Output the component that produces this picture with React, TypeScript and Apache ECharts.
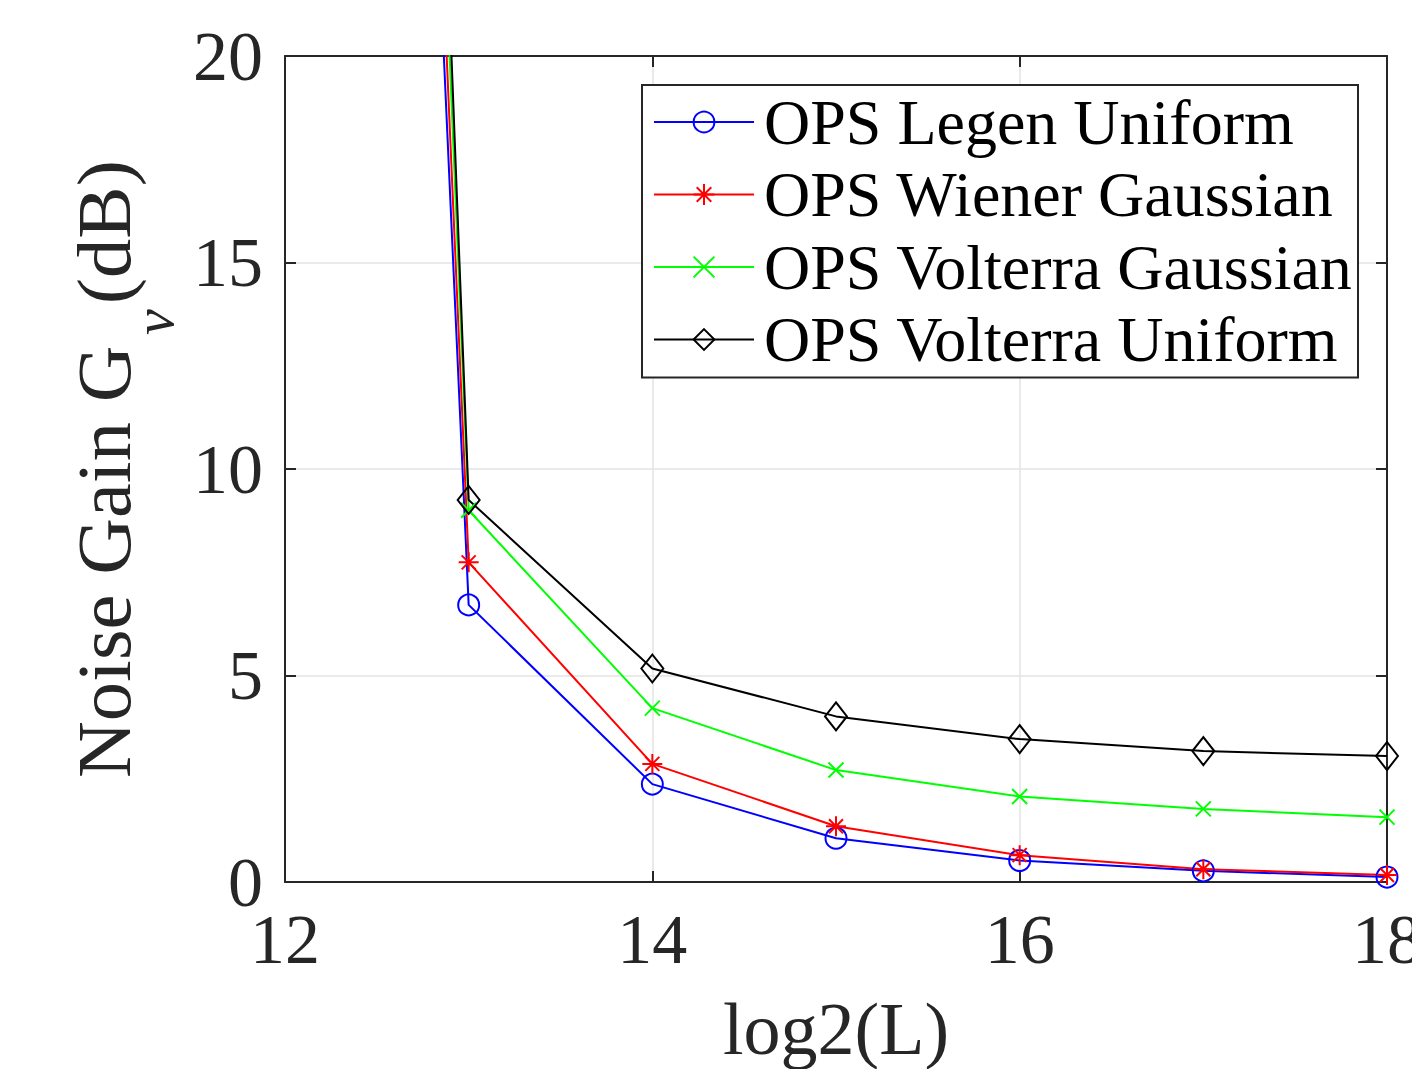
import React, { useEffect, useRef } from "react";
import * as echarts from "echarts";

const xValues = [12, 13, 14, 15, 16, 17, 18];
const legenUniform = [105, 6.71, 2.37, 1.06, 0.52, 0.27, 0.12];
const wienerGaussian = [110, 7.74, 2.86, 1.35, 0.65, 0.31, 0.17];
const volterraGaussian = [115, 9.0, 4.21, 2.71, 2.07, 1.77, 1.57];
const volterraUniform = [124, 9.25, 5.17, 4.01, 3.46, 3.17, 3.05];
const seriesNames = [
  "OPS Legen Uniform",
  "OPS Wiener Gaussian",
  "OPS Volterra Gaussian",
  "OPS Volterra Uniform",
];
const xTicks = [12, 14, 16, 18];
const yTicks = [0, 5, 10, 15, 20];
const yLabelMain = "Noise Gain G";
const yLabelSub = "ν";
const yLabelTail = "(dB)";

const FONT = "'Liberation Serif', 'Times New Roman', serif";
const AXIS_COLOR = "#262626";
const Y_FONT_SIZE = 76;
const SUB_FONT_SIZE = 56;

const ASTERISK =
  "path://M0,10 L20,10 M10,0 L10,20 M3,3 L17,17 M17,3 L3,17";
const XMARK = "path://M0,0 L20,20 M20,0 L0,20";

function pairs(ys: number[]) {
  return xValues.map((x, i) => [x, ys[i]]);
}

function measure(text: string, font: string): number {
  const c = document.createElement("canvas");
  const ctx = c.getContext("2d");
  if (!ctx) return text.length * 30;
  ctx.font = font;
  return ctx.measureText(text).width;
}

export default function App() {
  const ref = useRef<HTMLDivElement>(null);
  useEffect(() => {
    if (!ref.current) return;
    const chart = echarts.init(ref.current, undefined, { renderer: "svg" });
    const mk = (
      name: string,
      data: number[],
      color: string,
      symbol: string,
      size: number | number[]
    ) => ({
      name,
      type: "line",
      data: pairs(data),
      xAxisIndex: 0,
      yAxisIndex: 0,
      symbol,
      symbolSize: size,
      showAllSymbol: true,
      clip: true,
      lineStyle: { color, width: 2 },
      itemStyle: { color: "transparent", borderColor: color, borderWidth: 2 },
      emphasis: { disabled: true },
      z: 3,
    });

    const wMain = measure(yLabelMain, `${Y_FONT_SIZE}px ${FONT}`);
    const wSub = measure(yLabelSub, `italic ${SUB_FONT_SIZE}px ${FONT}`);
    const subX = wMain + 10;
    const tailX = subX + wSub + 5;

    chart.setOption({
      animation: false,
      backgroundColor: "#ffffff",
      grid: {
        left: 285,
        right: 25,
        top: 56,
        bottom: 187,
        containLabel: false,
        outerBoundsMode: "none",
      },
      graphic: [
        {
          type: "group",
          x: 104,
          y: 778,
          rotation: Math.PI / 2,
          scaleX: 1.035,
          silent: true,
          children: [
            {
              type: "text",
              x: 0,
              y: 0,
              style: {
                text: yLabelMain,
                fontFamily: FONT,
                fontSize: Y_FONT_SIZE,
                fill: AXIS_COLOR,
                align: "left",
                verticalAlign: "middle",
              },
            },
            {
              type: "text",
              x: subX,
              y: 50,
              style: {
                text: yLabelSub,
                fontFamily: FONT,
                fontSize: SUB_FONT_SIZE,
                fontStyle: "italic",
                fill: AXIS_COLOR,
                align: "left",
                verticalAlign: "middle",
              },
            },
            {
              type: "text",
              x: tailX,
              y: 0,
              style: {
                text: yLabelTail,
                fontFamily: FONT,
                fontSize: Y_FONT_SIZE,
                fill: AXIS_COLOR,
                align: "left",
                verticalAlign: "middle",
              },
            },
          ],
        },
      ],
      xAxis: [
        {
          type: "value",
          min: 12,
          max: 18,
          interval: 2,
          position: "bottom",
          name: "log2(L)",
          nameLocation: "middle",
          nameGap: 110,
          nameTextStyle: { fontFamily: FONT, fontSize: 74, color: AXIS_COLOR },
          axisLine: { show: true, onZero: false, lineStyle: { color: AXIS_COLOR, width: 2 } },
          axisTick: { show: true, inside: true, length: 11, lineStyle: { color: AXIS_COLOR, width: 2 } },
          axisLabel: {
            fontFamily: FONT,
            fontSize: 70,
            color: AXIS_COLOR,
            margin: 22,
            hideOverlap: false,
            formatter: (v: number) => (xTicks.includes(v) ? String(v) : ""),
          },
          splitLine: { show: true, lineStyle: { color: "#e3e3e3", width: 1.5 } },
        },
        {
          type: "value",
          min: 12,
          max: 18,
          interval: 2,
          position: "top",
          axisLine: { show: true, onZero: false, lineStyle: { color: AXIS_COLOR, width: 2 } },
          axisTick: { show: true, inside: true, length: 11, lineStyle: { color: AXIS_COLOR, width: 2 } },
          axisLabel: { show: false },
          splitLine: { show: false },
        },
      ],
      yAxis: [
        {
          type: "value",
          min: 0,
          max: 20,
          interval: 5,
          position: "left",
          axisLine: { show: true, onZero: false, lineStyle: { color: AXIS_COLOR, width: 2 } },
          axisTick: { show: true, inside: true, length: 11, lineStyle: { color: AXIS_COLOR, width: 2 } },
          axisLabel: {
            fontFamily: FONT,
            fontSize: 70,
            color: AXIS_COLOR,
            margin: 22,
            formatter: (v: number) => (yTicks.includes(v) ? String(v) : ""),
          },
          splitLine: { show: true, lineStyle: { color: "#e3e3e3", width: 1.5 } },
        },
        {
          type: "value",
          min: 0,
          max: 20,
          interval: 5,
          position: "right",
          axisLine: { show: true, onZero: false, lineStyle: { color: AXIS_COLOR, width: 2 } },
          axisTick: { show: true, inside: true, length: 11, lineStyle: { color: AXIS_COLOR, width: 2 } },
          axisLabel: { show: false },
          splitLine: { show: false },
        },
      ],
      legend: {
        orient: "vertical",
        left: 642,
        top: 85,
        data: seriesNames,
        itemWidth: 100,
        itemHeight: 26,
        itemGap: 8.5,
        padding: [5, 5, 6, 11],
        backgroundColor: "#ffffff",
        borderColor: "#262626",
        borderWidth: 2,
        borderRadius: 0,
        selectedMode: false,
        textStyle: {
          fontFamily: FONT,
          fontSize: 64,
          color: "#000000",
          lineHeight: 62,
          padding: [0, 0, 0, 5],
        },
        z: 10,
      },
      series: [
        mk(seriesNames[0], legenUniform, "#0000ff", "circle", 21),
        mk(seriesNames[1], wienerGaussian, "#ff0000", ASTERISK, 20),
        mk(seriesNames[2], volterraGaussian, "#00ff00", XMARK, 15),
        mk(seriesNames[3], volterraUniform, "#000000", "diamond", [22, 28]),
      ],
    });
    return () => chart.dispose();
  }, []);
  return <div ref={ref} style={{ width: 1412, height: 1069, position: "absolute", left: 0, top: 0 }} />;
}
